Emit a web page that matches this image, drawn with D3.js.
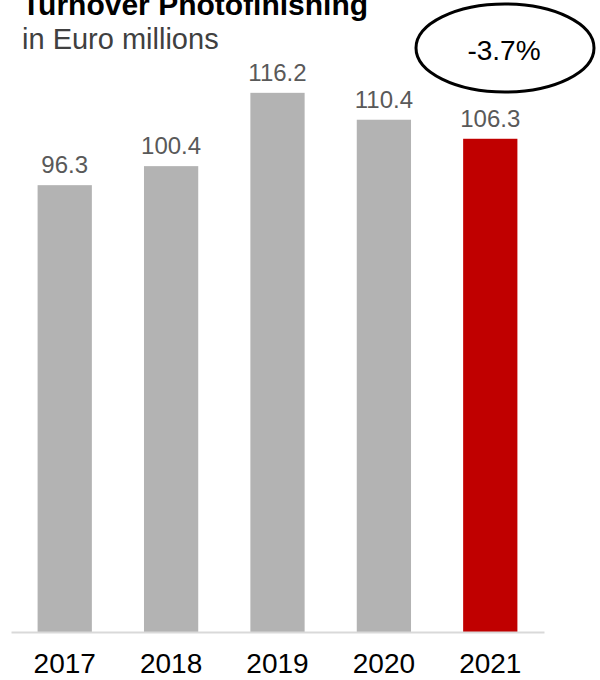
<!DOCTYPE html>
<html>
<head>
<meta charset="utf-8">
<script src="https://cdn.jsdelivr.net/npm/d3@7"></script>
<style>
  body { margin: 0; background: #fff; }
  text { font-family: "Liberation Sans", Arial, sans-serif; }
</style>
</head>
<body>
<div class="chart"></div>
<script>
var years = ["2017", "2018", "2019", "2020", "2021"];
var turnover = [96.3, 100.4, 116.2, 110.4, 106.3];
var changeLabel = "-3.7%";

var svgWidth = 600;
var svgHeight = 680;

var svg = d3.select(".chart")
  .append("svg")
  .attr("width", svgWidth)
  .attr("height", svgHeight);

// scales
var xScale = d3.scaleBand()
  .domain(years)
  .range([11, 544])
  .paddingInner(0.49)
  .paddingOuter(0.25);

var baseY = 632;
var yScale = d3.scaleLinear()
  .domain([0, 130])
  .range([baseY, baseY - 130 * 4.64]);

// title (top is clipped in the original too)
svg.append("text")
  .attr("x", 22)
  .attr("y", 15)
  .style("font-size", "30px")
  .style("font-weight", "bold")
  .style("fill", "#000")
  .text("Turnover Photofinishing");

svg.append("text")
  .attr("x", 22)
  .attr("y", 49)
  .style("font-size", "29px")
  .style("fill", "#404040")
  .text("in Euro millions");

// bars
svg.selectAll("rect.bar")
  .data(turnover)
  .enter()
  .append("rect")
  .attr("class", "bar")
  .attr("x", (d, i) => xScale(years[i]))
  .attr("y", d => yScale(d))
  .attr("width", xScale.bandwidth())
  .attr("height", d => baseY - yScale(d))
  .attr("fill", (d, i) => i === years.length - 1 ? "#c00000" : "#b3b3b3");

// value labels
svg.selectAll("text.val")
  .data(turnover)
  .enter()
  .append("text")
  .attr("class", "val")
  .attr("x", (d, i) => xScale(years[i]) + xScale.bandwidth() / 2)
  .attr("y", d => yScale(d) - 12)
  .attr("text-anchor", "middle")
  .style("font-size", "24px")
  .style("fill", "#595959")
  .text(d => d.toFixed(1));

// x axis
var bottomAxis = d3.axisBottom(xScale).tickSize(0).tickPadding(21);
var axisG = svg.append("g")
  .attr("transform", `translate(0, ${baseY})`)
  .call(bottomAxis);
axisG.select(".domain")
  .attr("stroke", "#d9d9d9")
  .attr("stroke-width", 2);
axisG.selectAll("text")
  .style("font-size", "28px")
  .style("font-family", "Liberation Sans, Arial, sans-serif")
  .style("fill", "#000");

// change bubble
svg.append("ellipse")
  .attr("cx", 505)
  .attr("cy", 48)
  .attr("rx", 89)
  .attr("ry", 44)
  .attr("fill", "none")
  .attr("stroke", "#000")
  .attr("stroke-width", 3);

svg.append("text")
  .attr("x", 504)
  .attr("y", 60)
  .attr("text-anchor", "middle")
  .style("font-size", "28px")
  .style("fill", "#000")
  .text(changeLabel);
</script>
</body>
</html>
